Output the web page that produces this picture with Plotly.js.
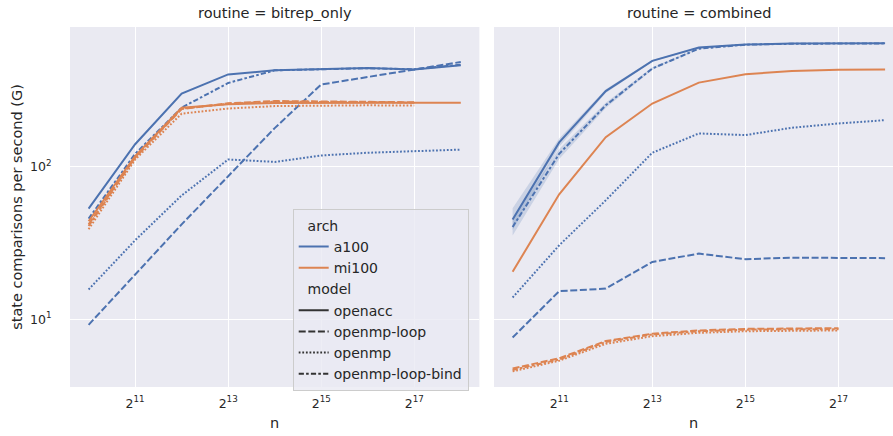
<!DOCTYPE html>
<html>
<head>
<meta charset="utf-8">
<script src="https://cdn.plot.ly/plotly-3.0.1.min.js"></script>
<style>html,body{margin:0;padding:0;background:#fff;}#chart{width:893px;height:436px;}</style>
</head>
<body>
<div id="chart"></div>
<script>
// ---- data ----
const n = [1024, 2048, 4096, 8192, 16384, 32768, 65536, 131072, 262144];
const xTickVals = [2048, 8192, 32768, 131072];
const xTickText = ['2<sup>11</sup>', '2<sup>13</sup>', '2<sup>15</sup>', '2<sup>17</sup>'];
const yTickVals = [10, 100];
const yTickText = ['10<sup>1</sup>', '10<sup>2</sup>'];
const panelTitles = ['routine = bitrep_only', 'routine = combined'];
const archs = ['a100', 'mi100'];
const models = ['openacc', 'openmp-loop', 'openmp', 'openmp-loop-bind'];

// bitrep_only
const bitrep_a100_openacc = [53.3, 141, 303, 405, 431, 440, 447, 436, 466];
const bitrep_a100_loop    = [9.2, 19.7, 42, 87, 180, 348, 390, 436, 489];
const bitrep_a100_openmp  = [15.7, 33, 65, 112, 108, 119, 124, 127, 130];
const bitrep_a100_bind    = [45.8, 122, 245, 356, 431, 440, 445, 438, 470];
const bitrep_mi100_openacc = [44, 118, 245, 258, 263, 264, 264, 264, 264];
const bitrep_mi100_loop    = [42, 115, 240, 262, 271, 270, 269, 266, null];
const bitrep_mi100_openmp  = [39, 112, 224, 242, 251, 253, 254, 253, null];
const bitrep_mi100_bind    = [41, 116, 242, 260, 268, 268, 267, 264, null];

// combined
const comb_a100_openacc = [45.2, 145, 315, 497, 608, 637, 646, 650, 650];
const comb_a100_openacc_lo = [38.5, 136, 306, 490, 603, 634, 644, 648, 648];
const comb_a100_openacc_hi = [53.5, 154, 324, 504, 613, 640, 648, 652, 652];
const comb_a100_bind = [40.4, 122, 254, 443, 598, 635, 644, 648, 648];
const comb_a100_bind_lo = [35.5, 113, 244, 435, 592, 631, 642, 646, 646];
const comb_a100_bind_hi = [46, 131, 264, 451, 604, 639, 646, 650, 650];
const comb_a100_openmp = [13.9, 30.6, 60.4, 124, 166, 162, 181, 193, 203];
const comb_a100_loop   = [7.59, 15.3, 15.9, 23.8, 27.0, 24.8, 25.4, 25.4, 25.2];
const comb_mi100_openacc = [20.5, 66.2, 157, 261, 358, 406, 427, 435, 437];
const comb_mi100_loop    = [4.75, 5.55, 7.2, 8.05, 8.45, 8.65, 8.7, 8.75, null];
const comb_mi100_bind    = [4.65, 5.45, 7.1, 7.95, 8.35, 8.55, 8.6, 8.6, null];
const comb_mi100_openmp  = [4.55, 5.35, 6.9, 7.75, 8.15, 8.35, 8.4, 8.45, null];

// ---- styles ----
const colors = {a100: '#4c72b0', mi100: '#dd8452'};
const bandColor = 'rgba(76,114,176,0.2)';
const dashes = {
  'openacc': 'solid',
  'openmp-loop': '7px,2.6px',
  'openmp': '1.8px,1.8px',
  'openmp-loop-bind': '5.2px,2.2px,2.6px,2.2px'
};
const LW = 2;

const traces = [];
function band(xa, ya, lo, hi) {
  traces.push({x: n, y: lo, xaxis: xa, yaxis: ya, mode: 'lines', line: {width: 0, color: bandColor}, showlegend: false, hoverinfo: 'skip'});
  traces.push({x: n, y: hi, xaxis: xa, yaxis: ya, mode: 'lines', line: {width: 0, color: bandColor}, fill: 'tonexty', fillcolor: bandColor, showlegend: false, hoverinfo: 'skip'});
}
function line(xa, ya, arch, model, vals) {
  traces.push({x: n, y: vals, xaxis: xa, yaxis: ya, mode: 'lines',
    line: {color: colors[arch], width: LW, dash: dashes[model]}, showlegend: false, connectgaps: false});
}

band('x2', 'y2', comb_a100_openacc_lo, comb_a100_openacc_hi);
band('x2', 'y2', comb_a100_bind_lo, comb_a100_bind_hi);

// left panel
line('x', 'y', 'a100', 'openacc', bitrep_a100_openacc);
line('x', 'y', 'a100', 'openmp-loop', bitrep_a100_loop);
line('x', 'y', 'a100', 'openmp', bitrep_a100_openmp);
line('x', 'y', 'a100', 'openmp-loop-bind', bitrep_a100_bind);
line('x', 'y', 'mi100', 'openacc', bitrep_mi100_openacc);
line('x', 'y', 'mi100', 'openmp-loop', bitrep_mi100_loop);
line('x', 'y', 'mi100', 'openmp', bitrep_mi100_openmp);
line('x', 'y', 'mi100', 'openmp-loop-bind', bitrep_mi100_bind);
// right panel
line('x2', 'y2', 'a100', 'openacc', comb_a100_openacc);
line('x2', 'y2', 'a100', 'openmp-loop', comb_a100_loop);
line('x2', 'y2', 'a100', 'openmp', comb_a100_openmp);
line('x2', 'y2', 'a100', 'openmp-loop-bind', comb_a100_bind);
line('x2', 'y2', 'mi100', 'openacc', comb_mi100_openacc);
line('x2', 'y2', 'mi100', 'openmp-loop', comb_mi100_loop);
line('x2', 'y2', 'mi100', 'openmp', comb_mi100_openmp);
line('x2', 'y2', 'mi100', 'openmp-loop-bind', comb_mi100_bind);

// legend entries
archs.forEach(a => traces.push({x: [null], y: [null], xaxis: 'x', yaxis: 'y', mode: 'lines', name: a,
  line: {color: colors[a], width: LW}, legendgroup: 'arch', legendgrouptitle: {text: '  arch'}, showlegend: true}));
models.forEach(m => traces.push({x: [null], y: [null], xaxis: 'x', yaxis: 'y', mode: 'lines', name: m,
  line: {color: '#333333', width: LW, dash: dashes[m]}, legendgroup: 'model', legendgrouptitle: {text: '  model'}, showlegend: true}));

const L2 = Math.log10(2);
const font = {family: 'DejaVu Sans', size: 14.5, color: '#262626'};
const legFont = {family: 'DejaVu Sans', size: 14, color: '#262626'};
const axBase = {
  type: 'log', showgrid: true, gridcolor: '#ffffff', gridwidth: 1, zeroline: false, showline: false,
  ticks: '', tickfont: {family: 'DejaVu Sans', size: 12.5, color: '#262626'}
};
const x1 = 70, x1r = 479.4, x2l = 494, W = 893;
const plotW = W - x1;
const layout = {
  width: 893, height: 436,
  margin: {l: 70, r: 0, t: 26.7, b: 49.3},
  paper_bgcolor: '#ffffff', plot_bgcolor: '#eaeaf2',
  font: font,
  showlegend: true,
  xaxis: Object.assign({}, axBase, {domain: [0, (x1r - x1) / plotW], range: [9.6 * L2, 18.4 * L2],
    tickvals: xTickVals, ticktext: xTickText, ticklabelstandoff: 7, title: {text: 'n', font: font, standoff: 8}, anchor: 'y'}),
  xaxis2: Object.assign({}, axBase, {domain: [(x2l - x1) / plotW, 1], range: [9.6 * L2, 18.17 * L2],
    tickvals: xTickVals, ticktext: xTickText, ticklabelstandoff: 7, title: {text: 'n', font: font, standoff: 8}, anchor: 'y2'}),
  yaxis: Object.assign({}, axBase, {domain: [0, 1], range: [0.5555, 2.919], tickvals: yTickVals, ticktext: yTickText,
    ticks: 'outside', ticklen: 15, tickcolor: 'rgba(0,0,0,0)',
    title: {text: 'state comparisons per second (G)', font: font, standoff: 3}, anchor: 'x'}),
  yaxis2: Object.assign({}, axBase, {domain: [0, 1], range: [0.5555, 2.919], tickvals: yTickVals, ticktext: yTickText,
    showticklabels: false, anchor: 'x2', matches: 'y'}),
  legend: {
    x: (292.7 - x1) / plotW, y: (386.7 - 208.5) / 360, xanchor: 'left', yanchor: 'top',
    bgcolor: 'rgba(234,234,242,0.8)', bordercolor: '#cccccc', borderwidth: 1,
    font: legFont, grouptitlefont: legFont, tracegroupgap: 0, itemwidth: 30, traceorder: 'grouped'
  },
  annotations: [
    {text: panelTitles[0], xref: 'paper', yref: 'paper', x: ((x1 + x1r) / 2 - x1) / plotW, y: (386.7 - 13) / 360,
      xanchor: 'center', yanchor: 'middle', showarrow: false, font: font},
    {text: panelTitles[1], xref: 'paper', yref: 'paper', x: ((x2l + W + 10) / 2 - x1) / plotW, y: (386.7 - 13) / 360,
      xanchor: 'center', yanchor: 'middle', showarrow: false, font: font}
  ]
};
Plotly.newPlot('chart', traces, layout, {displayModeBar: false, staticPlot: true});
</script>
</body>
</html>
